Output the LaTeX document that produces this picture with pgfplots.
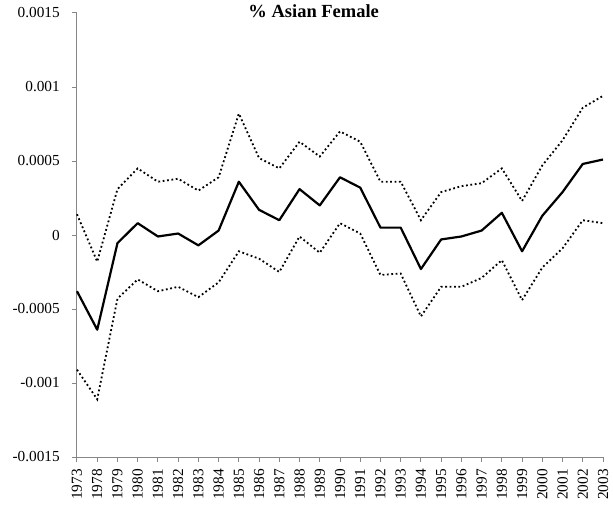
\documentclass[border=0pt]{standalone}
\usepackage{pgfplots}
\pgfplotsset{compat=1.18}
\usepackage{fontspec}
\setmainfont{Liberation Serif}
\definecolor{axgray}{RGB}{134,134,134}
\begin{document}
\begin{tikzpicture}
\begin{axis}[
  scale only axis,
  width=526pt, height=444pt,
  xmin=0, xmax=26, ymin=-0.0015, ymax=0.0015,
  axis x line=bottom, axis y line=left,
  axis line style={axgray, line width=1pt, -},
  xtick={0,...,26},
  xticklabels={1973,1978,1979,1980,1981,1982,1983,1984,1985,1986,1987,1988,1989,1990,1991,1992,1993,1994,1995,1996,1997,1998,1999,2000,2001,2002,2003},
  x tick label style={rotate=90, anchor=east, font=\fontsize{15.3}{17}\selectfont, inner sep=2pt, xshift=-5pt},
  ytick={-0.0015,-0.001,-0.0005,0,0.0005,0.001,0.0015},
  yticklabels={-0.0015,-0.001,-0.0005,0,0.0005,0.001,0.0015},
  y tick label style={font=\fontsize{15.3}{17}\selectfont, inner sep=2pt, xshift=-10pt},
  scaled y ticks=false,
  tick style={axgray, line width=1pt},
  tick align=outside,
  major tick length=5pt,
  xtick pos=bottom, ytick pos=left,
  /pgf/number format/assume math mode=true,
  title={\textbf{\% Asian Female}},
  title style={at={(0.45,1)}, anchor=center, yshift=-4pt, font=\fontsize{18.5}{20}\selectfont},
  clip=false,
]
\addplot[black, line width=2.2pt, line join=round] coordinates {
(0,-0.00038) (1,-0.00064) (2,-0.000055) (3,0.00008) (4,-0.00001) (5,0.00001) (6,-0.00007) (7,0.00003) (8,0.00036) (9,0.00017) (10,0.0001) (11,0.00031) (12,0.0002) (13,0.00039) (14,0.00032) (15,0.00005) (16,0.00005) (17,-0.00023) (18,-0.00003) (19,-0.00001) (20,0.00003) (21,0.00015) (22,-0.00011) (23,0.00013) (24,0.00029) (25,0.00048) (26,0.00051)
};
\addplot[black, line width=1.8pt, dash pattern=on 1.8pt off 2.6pt] coordinates {
(0,0.00014) (1,-0.00018) (2,0.00031) (3,0.00045) (4,0.00036) (5,0.00038) (6,0.0003) (7,0.00039) (8,0.00082) (9,0.00052) (10,0.00045) (11,0.00063) (12,0.00053) (13,0.0007) (14,0.00063) (15,0.00036) (16,0.00036) (17,0.0001) (18,0.00029) (19,0.00033) (20,0.00035) (21,0.00045) (22,0.00023) (23,0.00047) (24,0.00064) (25,0.00086) (26,0.00094)
};
\addplot[black, line width=1.8pt, dash pattern=on 1.8pt off 2.6pt] coordinates {
(0,-0.00091) (1,-0.00111) (2,-0.00043) (3,-0.0003) (4,-0.00038) (5,-0.00035) (6,-0.00042) (7,-0.00032) (8,-0.00011) (9,-0.00016) (10,-0.00025) (11,-0.00001) (12,-0.00012) (13,0.00008) (14,0.00001) (15,-0.00027) (16,-0.00026) (17,-0.00055) (18,-0.00035) (19,-0.00035) (20,-0.00029) (21,-0.00017) (22,-0.00044) (23,-0.00022) (24,-0.00009) (25,0.0001) (26,0.00008)
};
\end{axis}
\path (current axis.south west) ++(-77pt,-50pt) rectangle ++(613pt,507pt);
\end{tikzpicture}
\end{document}
